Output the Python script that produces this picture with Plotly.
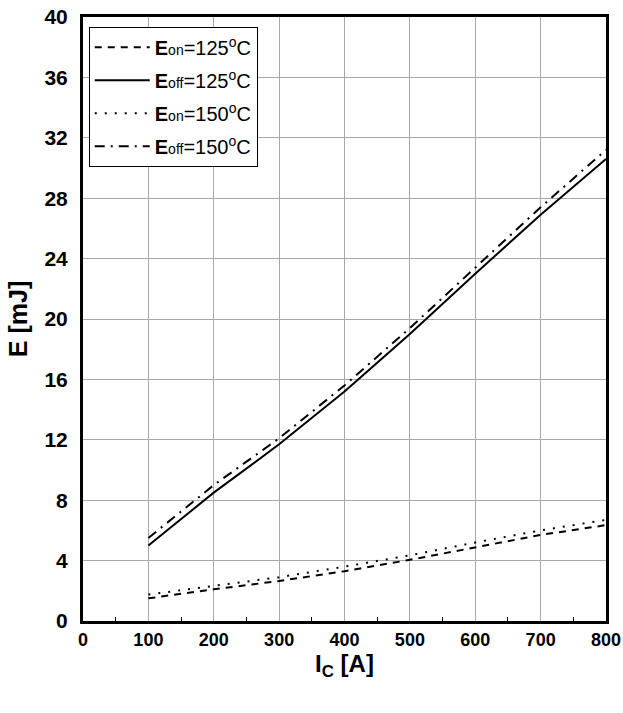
import plotly.graph_objects as go

ic = [100, 200, 300, 400, 500, 600, 700, 800]
eon_125 = [1.5, 2.1, 2.65, 3.3, 4.05, 4.85, 5.7, 6.35]
eoff_125 = [5.0, 8.5, 11.7, 15.2, 19.0, 23.0, 26.9, 30.6]
eon_150 = [1.75, 2.35, 2.9, 3.6, 4.35, 5.2, 6.0, 6.7]
eoff_150 = [5.5, 9.0, 12.1, 15.6, 19.4, 23.4, 27.4, 31.2]

x_ticks = [0, 100, 200, 300, 400, 500, 600, 700, 800]
y_ticks = [0, 4, 8, 12, 16, 20, 24, 28, 32, 36, 40]

FONT = "Liberation Sans, Arial, sans-serif"

def lbl(sub, temp):
    return ("<b>E</b><span style='font-size:14px'>" + sub + "</span>=" + temp +
            "<sup>o</sup>C")

fig = go.Figure()
styles = [
    (eon_125, lbl("on", "125"), "7px,6px"),
    (eoff_125, lbl("off", "125"), "solid"),
    (eon_150, lbl("on", "150"), "2px,8px"),
    (eoff_150, lbl("off", "150"), "10px,6px,2px,6px"),
]
for i, (ys, name, dash) in enumerate(styles):
    fig.add_trace(go.Scatter(x=ic, y=ys, mode="lines", name=name, legendgroup=f"g{i}",
                             line=dict(color="black", width=2, dash=dash)))

fig.update_layout(
    width=623, height=713,
    margin=dict(l=83, r=17, t=17, b=92),
    paper_bgcolor="white", plot_bgcolor="white",
    font=dict(family=FONT, color="black"),
    showlegend=True,
    legend=dict(x=0.011, y=0.984, xanchor="left", yanchor="top",
                bgcolor="white", bordercolor="black", borderwidth=1,
                font=dict(family=FONT, size=20, color="black"),
                tracegroupgap=4, itemwidth=55),
    xaxis=dict(range=[0, 800], tickvals=x_ticks, ticktext=[str(v) for v in x_ticks],
               showgrid=True, gridcolor="#a8a8a8", gridwidth=1,
               showline=True, linecolor="black", linewidth=3, mirror=True,
               ticks="", zeroline=False, automargin=False,
               tickfont=dict(family=FONT, size=18, color="black", weight="bold"),
               title=dict(text="<b>I<sub>C</sub> [A]</b>",
                          font=dict(family=FONT, size=24), standoff=6),
               minor=dict(tickvals=[50, 150, 250, 350, 450, 550, 650, 750],
                          ticks="inside", ticklen=4, tickcolor="black")),
    yaxis=dict(range=[0, 40], tickvals=y_ticks, ticktext=[str(v) for v in y_ticks],
               showgrid=True, gridcolor="#a8a8a8", gridwidth=1,
               showline=True, linecolor="black", linewidth=3, mirror=True,
               ticks="", zeroline=False, automargin=False,
               tickfont=dict(family=FONT, size=21, color="black", weight="bold"),
               ticklabelstandoff=8,
               title=dict(text="<b>E [mJ]</b>", font=dict(family=FONT, size=25),
                          standoff=10)),
)

fig.write_html("out.html")
